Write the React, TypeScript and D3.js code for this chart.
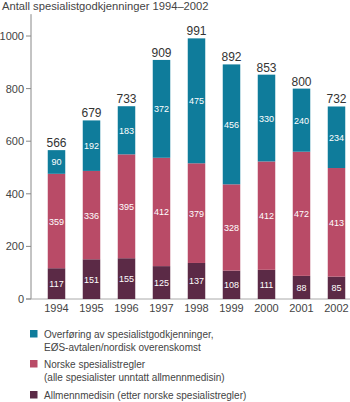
import React from "react";
import * as d3 from "d3";

const years = ["1994", "1995", "1996", "1997", "1998", "1999", "2000", "2001", "2002"];
const allmenn = [117, 151, 155, 125, 137, 108, 111, 88, 85];
const norske = [359, 336, 395, 412, 379, 328, 412, 472, 413];
const overforing = [90, 192, 183, 372, 475, 456, 330, 240, 234];
const totals = [566, 679, 733, 909, 991, 892, 853, 800, 732];
const yTicks = [0, 200, 400, 600, 800, 1000];
const seriesNames = [
  ["Overføring av spesialistgodkjenninger,", "EØS-avtalen/nordisk overenskomst"],
  ["Norske spesialistregler", "(alle spesialister unntatt allmennmedisin)"],
  ["Allmennmedisin (etter norske spesialistregler)"],
];
const colors = ["#0f7c9b", "#b94b67", "#5b2a46"];

export default function App() {
  const W = 350, H = 402;
  const font = "Liberation Sans, Arial, Helvetica, sans-serif";
  const y = d3.scaleLinear().domain([0, 1000]).range([299, 36]);
  const x = d3.scaleBand().domain(years).range([39, 354]).paddingInner(0.5).paddingOuter(0.25);
  const stackData = years.map((yr, i) => ({ yr, a: allmenn[i], n: norske[i], o: overforing[i] }));
  const stack = d3.stack<any>().keys(["a", "n", "o"])(stackData as any);
  const colorFor: Record<string, string> = { a: colors[2], n: colors[1], o: colors[0] };
  const axisX = 31;
  return (
    <svg width={W} height={H} style={{ position: "absolute", left: 0, top: 0 }} fontFamily={font}>
      <rect width={W} height={H} fill="#fff" />
      <text x={2} y={10} fontSize={11.2} fill="#444">Antall spesialistgodkjenninger 1994–2002</text>
      <line x1={axisX} x2={axisX} y1={y(1083)} y2={y(0)} stroke="#888" strokeWidth={1} />
      <line x1={axisX - 5} x2={W} y1={y(0)} y2={y(0)} stroke="#aaa" strokeWidth={1} />
      {yTicks.map((t) => (
        <g key={t}>
          <line x1={axisX - 5} x2={axisX} y1={y(t)} y2={y(t)} stroke="#888" />
          <text x={axisX - 7} y={y(t) + 4} fontSize={11} textAnchor="end" fill="#444">{t}</text>
        </g>
      ))}
      {stack.map((s) => (
        <g key={s.key}>
          {s.map((d: any, i: number) => {
            const x0 = x(years[i])!;
            const bw = x.bandwidth();
            const mid = (y(d[0]) + y(d[1])) / 2;
            const v = d[1] - d[0];
            return (
              <g key={i}>
                <rect x={x0} width={bw} y={y(d[1])} height={y(d[0]) - y(d[1])} fill={colorFor[s.key]} />
                <text x={x0 + bw / 2} y={mid + 3.5} fontSize={9} fill="#fff" textAnchor="middle">{v}</text>
              </g>
            );
          })}
        </g>
      ))}
      {years.map((yr, i) => (
        <g key={yr}>
          <text x={x(yr)! + x.bandwidth() / 2} y={y(totals[i]) - 3} fontSize={12} fill="#333" textAnchor="middle">{totals[i]}</text>
          <text x={x(yr)! + x.bandwidth() / 2} y={312} fontSize={11} fill="#444" textAnchor="middle">{yr}</text>
        </g>
      ))}
      {seriesNames.map((lines, k) => {
        const sy = [330, 360, 391][k];
        return (
          <g key={k}>
            <rect x={30} y={sy} width={7.5} height={7.5} fill={colors[k]} />
            {lines.map((l, j) => (
              <text key={j} x={44} y={sy + 7.5 + j * 13.5} fontSize={10} fill="#444">{l}</text>
            ))}
          </g>
        );
      })}
    </svg>
  );
}
